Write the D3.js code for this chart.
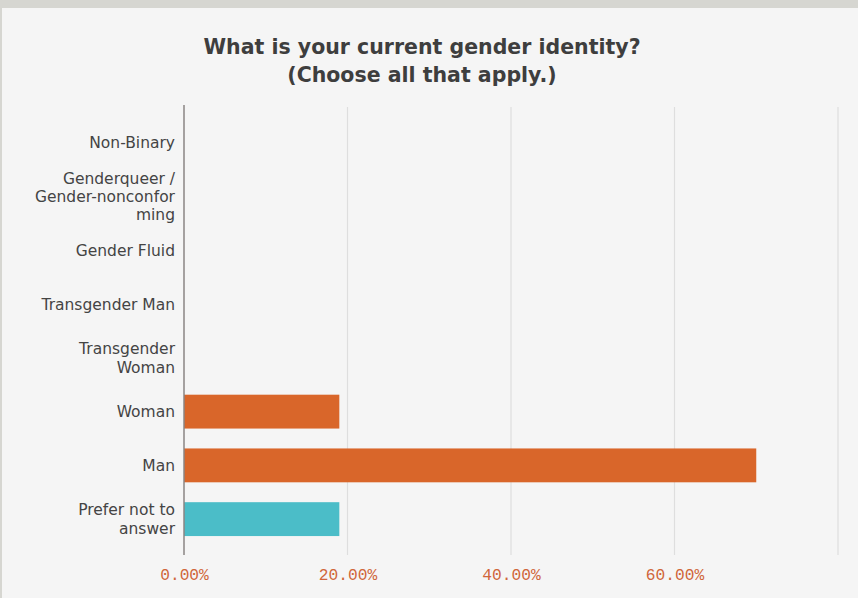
<!DOCTYPE html>
<html>
<head>
<meta charset="utf-8">
<script src="https://cdn.jsdelivr.net/npm/d3@7/dist/d3.min.js"></script>
<style>
  html, body { margin: 0; padding: 0; background: #d6d6d1; }
  svg { display: block; }
</style>
</head>
<body>
<svg id="chart" width="858" height="598"></svg>
<script>
// Survey answers, top to bottom
const categories = [
  "Non-Binary",
  "Genderqueer / Gender-nonconforming",
  "Gender Fluid",
  "Transgender Man",
  "Transgender Woman",
  "Woman",
  "Man",
  "Prefer not to answer"
];
// Wrapped label lines as shown beside the axis
const categoryLines = [
  ["Non-Binary"],
  ["Genderqueer /", "Gender-nonconfor", "ming"],
  ["Gender Fluid"],
  ["Transgender Man"],
  ["Transgender", "Woman"],
  ["Woman"],
  ["Man"],
  ["Prefer not to", "answer"]
];
// Share of respondents (%)
const percentages = [0, 0, 0, 0, 0, 19.0, 70.0, 19.0];
const barColors = ["#d9662a", "#d9662a", "#d9662a", "#d9662a", "#d9662a", "#d9662a", "#d9662a", "#4bbdc8"];
const tickValues = [0, 20, 40, 60, 80];
const titleLines = ["What is your current gender identity?", "(Choose all that apply.)"];

const svg = d3.select("#chart");
const W = 858, H = 598;

// panel background
svg.append("rect").attr("x", 2).attr("y", 8).attr("width", W - 2).attr("height", H - 8).attr("fill", "#f5f5f5");

const x = d3.scaleLinear().domain([0, 80]).range([184, 838]);
const y = d3.scaleBand().domain(categories).range([116, 546]).paddingInner(0.37).paddingOuter(0.185);

// title
svg.append("text")
  .attr("text-anchor", "middle")
  .attr("font-family", "'DejaVu Sans', Verdana, sans-serif")
  .attr("font-weight", "bold")
  .attr("font-size", 20.5)
  .attr("fill", "#3e3e3e")
  .selectAll("tspan").data(titleLines).join("tspan")
  .attr("x", 422).attr("y", (d, i) => 54 + i * 28)
  .text(d => d);

// vertical gridlines
svg.append("g").selectAll("line").data(tickValues.filter(v => v > 0)).join("line")
  .attr("x1", d => x(d)).attr("x2", d => x(d))
  .attr("y1", 107).attr("y2", 555)
  .attr("stroke", "#dedede").attr("stroke-width", 1.2);

// bars
svg.append("g").selectAll("rect").data(categories).join("rect")
  .attr("x", x(0))
  .attr("y", d => y(d))
  .attr("height", y.bandwidth())
  .attr("width", (d, i) => x(percentages[i]) - x(0))
  .attr("fill", (d, i) => barColors[i]);

// y axis line
svg.append("line")
  .attr("x1", x(0)).attr("x2", x(0)).attr("y1", 105).attr("y2", 555)
  .attr("stroke", "#8a8583").attr("stroke-width", 1.5);

// category labels
const labels = svg.append("g")
  .attr("font-family", "'DejaVu Sans', Verdana, sans-serif")
  .attr("font-size", 15.5)
  .attr("fill", "#444")
  .attr("text-anchor", "end");
categories.forEach((c, i) => {
  const lines = categoryLines[i];
  const cy = y(c) + y.bandwidth() / 2;
  const lh = 18.3;
  const t = labels.append("text");
  lines.forEach((ln, j) => {
    t.append("tspan")
      .attr("x", 175)
      .attr("y", cy + (j - (lines.length - 1) / 2) * lh + 5.5)
      .text(ln);
  });
});

// x axis tick labels
const xAxis = d3.axisBottom(x).tickValues(tickValues.filter(v => v < 80))
  .tickFormat(d => d.toFixed(2) + "%").tickSize(0).tickPadding(0);
const gx = svg.append("g").attr("transform", "translate(0,568)").call(xAxis);
gx.select(".domain").remove();
gx.selectAll("text")
  .attr("font-family", "'Liberation Mono', 'Courier New', monospace")
  .attr("font-size", 16.2)
  .attr("fill", "#d0663a");
</script>
</body>
</html>
